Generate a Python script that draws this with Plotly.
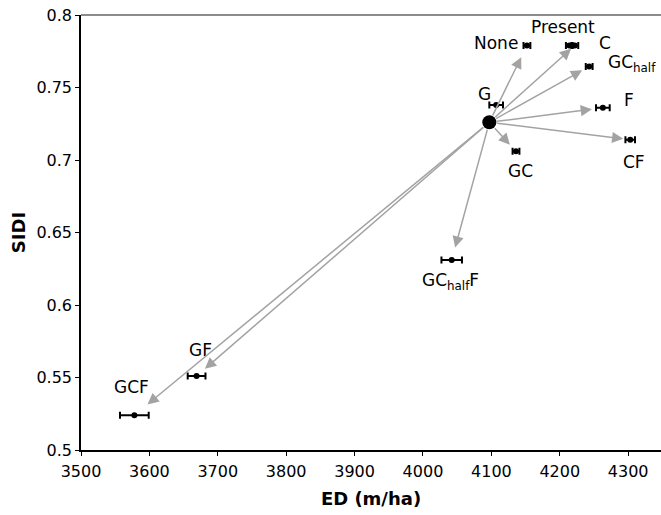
import plotly.graph_objects as go

# Scenario outcomes: edge density (ED, m/ha) and Simpson's diversity index (SIDI)
treatments = ["None", "Present", "C", "GC<sub>half</sub>", "F", "CF", "G", "GC",
              "GC<sub>half</sub>F", "GF", "GCF"]
ed = [4152, 4214, 4222, 4243, 4263, 4303, 4107, 4136, 4042, 3669, 3578]
ed_err = [5, 5, 5, 5, 10, 7, 10, 5, 15, 13, 21]
sidi = [0.779, 0.779, 0.779, 0.7645, 0.736, 0.714, 0.738, 0.706, 0.631, 0.551, 0.524]

# Starting landscape
start_ed = [4097]
start_sidi = [0.726]

x_ticks = [3500, 3600, 3700, 3800, 3900, 4000, 4100, 4200, 4300]
y_ticks = [0.5, 0.55, 0.6, 0.65, 0.7, 0.75, 0.8]
y_tick_text = ["0.5", "0.55", "0.6", "0.65", "0.7", "0.75", "0.8"]

# Label placement (pixels from the point) and arrow gap per treatment
label_style = {
    "None": dict(xanchor="right", xshift=-7, yshift=2),
    "Present": dict(xanchor="center", xshift=-6, yshift=18),
    "C": dict(xanchor="left", xshift=22, yshift=2),
    "GC<sub>half</sub>": dict(xanchor="left", xshift=17, yshift=3),
    "F": dict(xanchor="left", xshift=19, yshift=8),
    "CF": dict(xanchor="center", xshift=4, yshift=-22),
    "G": dict(xanchor="right", xshift=-3, yshift=11),
    "GC": dict(xanchor="center", xshift=4, yshift=-20),
    "GC<sub>half</sub>F": dict(xanchor="center", xshift=-1, yshift=-21),
    "GF": dict(xanchor="center", xshift=4, yshift=26),
    "GCF": dict(xanchor="center", xshift=-3, yshift=28),
}
arrow_gap = {"None": 13, "C": 5, "GC<sub>half</sub>": 8, "F": 11, "CF": 7,
             "GC": 9, "GC<sub>half</sub>F": 13, "GF": 11, "GCF": 17}

FONT = "DejaVu Sans"

fig = go.Figure()

fig.add_trace(go.Scatter(
    x=ed, y=sidi, mode="markers",
    marker=dict(color="black", size=6),
    error_x=dict(type="data", array=ed_err, color="black", thickness=2, width=3.5),
    showlegend=False, hoverinfo="skip",
))

fig.add_trace(go.Scatter(
    x=start_ed, y=start_sidi, mode="markers",
    marker=dict(color="black", size=14),
    showlegend=False, hoverinfo="skip",
))

annotations = []
for name, x, y in zip(treatments, ed, sidi):
    if name in arrow_gap:
        annotations.append(dict(
            x=x, y=y, xref="x", yref="y",
            ax=start_ed[0], ay=start_sidi[0], axref="x", ayref="y",
            text="", showarrow=True, arrowhead=2, arrowsize=1.5,
            arrowwidth=1.5, arrowcolor="#a3a3a3", standoff=arrow_gap[name],
            startstandoff=6,
        ))
    st = label_style[name]
    annotations.append(dict(
        x=x, y=y, xref="x", yref="y", text=name, showarrow=False,
        xanchor=st["xanchor"], yanchor="middle",
        xshift=st["xshift"], yshift=st["yshift"],
        font=dict(family=FONT, size=17, color="black"),
    ))

fig.update_layout(
    width=661, height=515,
    margin=dict(l=81, r=0, t=15, b=65),
    paper_bgcolor="white", plot_bgcolor="white",
    font=dict(family=FONT, color="black"),
    annotations=annotations,
    shapes=[dict(type="line", xref="paper", yref="paper", x0=0, x1=1, y0=1, y1=1,
                 line=dict(color="#8c8c8c", width=2))],
    xaxis=dict(
        range=[3500, 4348], tickvals=x_ticks, ticks="outside", ticklen=4,
        tickcolor="black", tickwidth=1, showline=True, linecolor="black",
        linewidth=1.5, showgrid=False, zeroline=False, ticklabelstandoff=2,
        tickfont=dict(family=FONT, size=16, color="black"),
        title=dict(text="ED (m/ha)", standoff=12,
                   font=dict(family=FONT, size=18, color="black", weight="bold")),
    ),
    yaxis=dict(
        range=[0.5, 0.8], tickvals=y_ticks, ticktext=y_tick_text, ticks="outside",
        ticklen=4, tickcolor="black", tickwidth=1, showline=True, linecolor="black",
        linewidth=1.5, showgrid=False, zeroline=False,
        tickfont=dict(family=FONT, size=16, color="black"),
        title=dict(text="SIDI", standoff=6,
                   font=dict(family=FONT, size=18, color="black", weight="bold")),
    ),
)

fig.write_html("out.html")
